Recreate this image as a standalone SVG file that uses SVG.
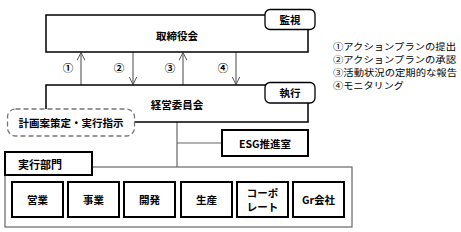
<svg xmlns="http://www.w3.org/2000/svg" width="461" height="232" viewBox="0 0 461 232">
<defs>
<marker id="ah" viewBox="0 0 10 10" refX="10" refY="5" markerWidth="8" markerHeight="8" orient="auto" markerUnits="userSpaceOnUse">
<path d="M0,0 L10,5 L0,10" fill="none" stroke="#555" stroke-width="1.2"/>
</marker>
<style>
text{font-family:"Noto Sans CJK JP","Liberation Sans",sans-serif;fill:#000}
.b{font-weight:bold;font-size:10.5px;text-anchor:middle;dominant-baseline:central}
.main{fill:#fff;stroke:#000;stroke-width:1.5}
.tag{fill:#fff;stroke:#000;stroke-width:1.3}
.thick{fill:#fff;stroke:#000;stroke-width:2}
.conn{stroke:#666;stroke-width:1.2;fill:none}
.leg{font-size:9px}
</style>
</defs>
<g id="connectors">
<line class="conn" x1="81" y1="85" x2="81" y2="52.5" marker-end="url(#ah)"/>
<line class="conn" x1="133" y1="52" x2="133" y2="84.5" marker-end="url(#ah)"/>
<line class="conn" x1="183" y1="85" x2="183" y2="52.5" marker-end="url(#ah)"/>
<line class="conn" x1="236" y1="52" x2="236" y2="84.5" marker-end="url(#ah)"/>
<line class="conn" x1="177" y1="122" x2="177" y2="167"/>
<line class="conn" x1="177" y1="143" x2="222" y2="143"/>
<text x="68" y="67" class="b">①</text>
<text x="119" y="67" class="b">②</text>
<text x="170" y="67" class="b">③</text>
<text x="223" y="67" class="b">④</text>
</g>
<g id="board">
<rect class="main" x="46" y="15" width="262" height="37"/>
<text class="b" x="177" y="35">取締役会</text>
</g>
<g id="kanshi">
<rect class="tag" x="265" y="9.5" width="50" height="20" rx="5"/>
<text class="b" x="290" y="19.5">監視</text>
</g>
<g id="exec-committee">
<rect class="main" x="46" y="85" width="262" height="37"/>
<text class="b" x="177" y="104">経営委員会</text>
</g>
<g id="shikkou">
<rect class="tag" x="265" y="82.5" width="50" height="20.5" rx="5"/>
<text class="b" x="290" y="92.5">執行</text>
</g>
<g id="plan">
<rect x="7.5" y="109" width="127" height="27" rx="8" fill="#fff" stroke="#777" stroke-width="1.3" stroke-dasharray="5,3"/>
<text class="b" x="71" y="122.5">計画案策定・実行指示</text>
</g>
<g id="esg">
<rect class="thick" x="222" y="130" width="86" height="26"/>
<text class="b" x="265" y="143">ESG推進室</text>
</g>
<g id="divisions">
<rect x="5" y="167" width="347" height="60" fill="#fff" stroke="#666" stroke-width="1.2"/>
</g>
<g id="divisions-label">
<rect class="thick" x="5" y="152" width="87" height="23"/>
<text class="b" x="40" y="163.5" style="font-size:11px">実行部門</text>
</g>
<g id="eigyo"><rect class="thick" x="12" y="182" width="51" height="35"/><text class="b" x="37.5" y="199.5">営業</text></g>
<g id="jigyo"><rect class="thick" x="68" y="182" width="51" height="35"/><text class="b" x="93.5" y="199.5">事業</text></g>
<g id="kaihatsu"><rect class="thick" x="124" y="182" width="51" height="35"/><text class="b" x="149.5" y="199.5">開発</text></g>
<g id="seisan"><rect class="thick" x="181" y="182" width="51" height="35"/><text class="b" x="206.5" y="199.5">生産</text></g>
<g id="corporate"><rect class="thick" x="237" y="182" width="51" height="35"/><text class="b" x="262.5" y="192.5">コーポ</text><text class="b" x="262.5" y="206.5">レート</text></g>
<g id="gr"><rect class="thick" x="293" y="182" width="51" height="35"/><text class="b" x="318.5" y="199.5">Gr会社</text></g>
<g id="legend">
<text class="leg" x="333" y="49.5" textLength="123" lengthAdjust="spacingAndGlyphs">①アクションプランの提出</text>
<text class="leg" x="333" y="62.5" textLength="123" lengthAdjust="spacingAndGlyphs">②アクションプランの承認</text>
<text class="leg" x="333" y="76" textLength="124" lengthAdjust="spacingAndGlyphs">③活動状況の定期的な報告</text>
<text class="leg" x="333" y="89" textLength="71" lengthAdjust="spacingAndGlyphs">④モニタリング</text>
</g>
</svg>
